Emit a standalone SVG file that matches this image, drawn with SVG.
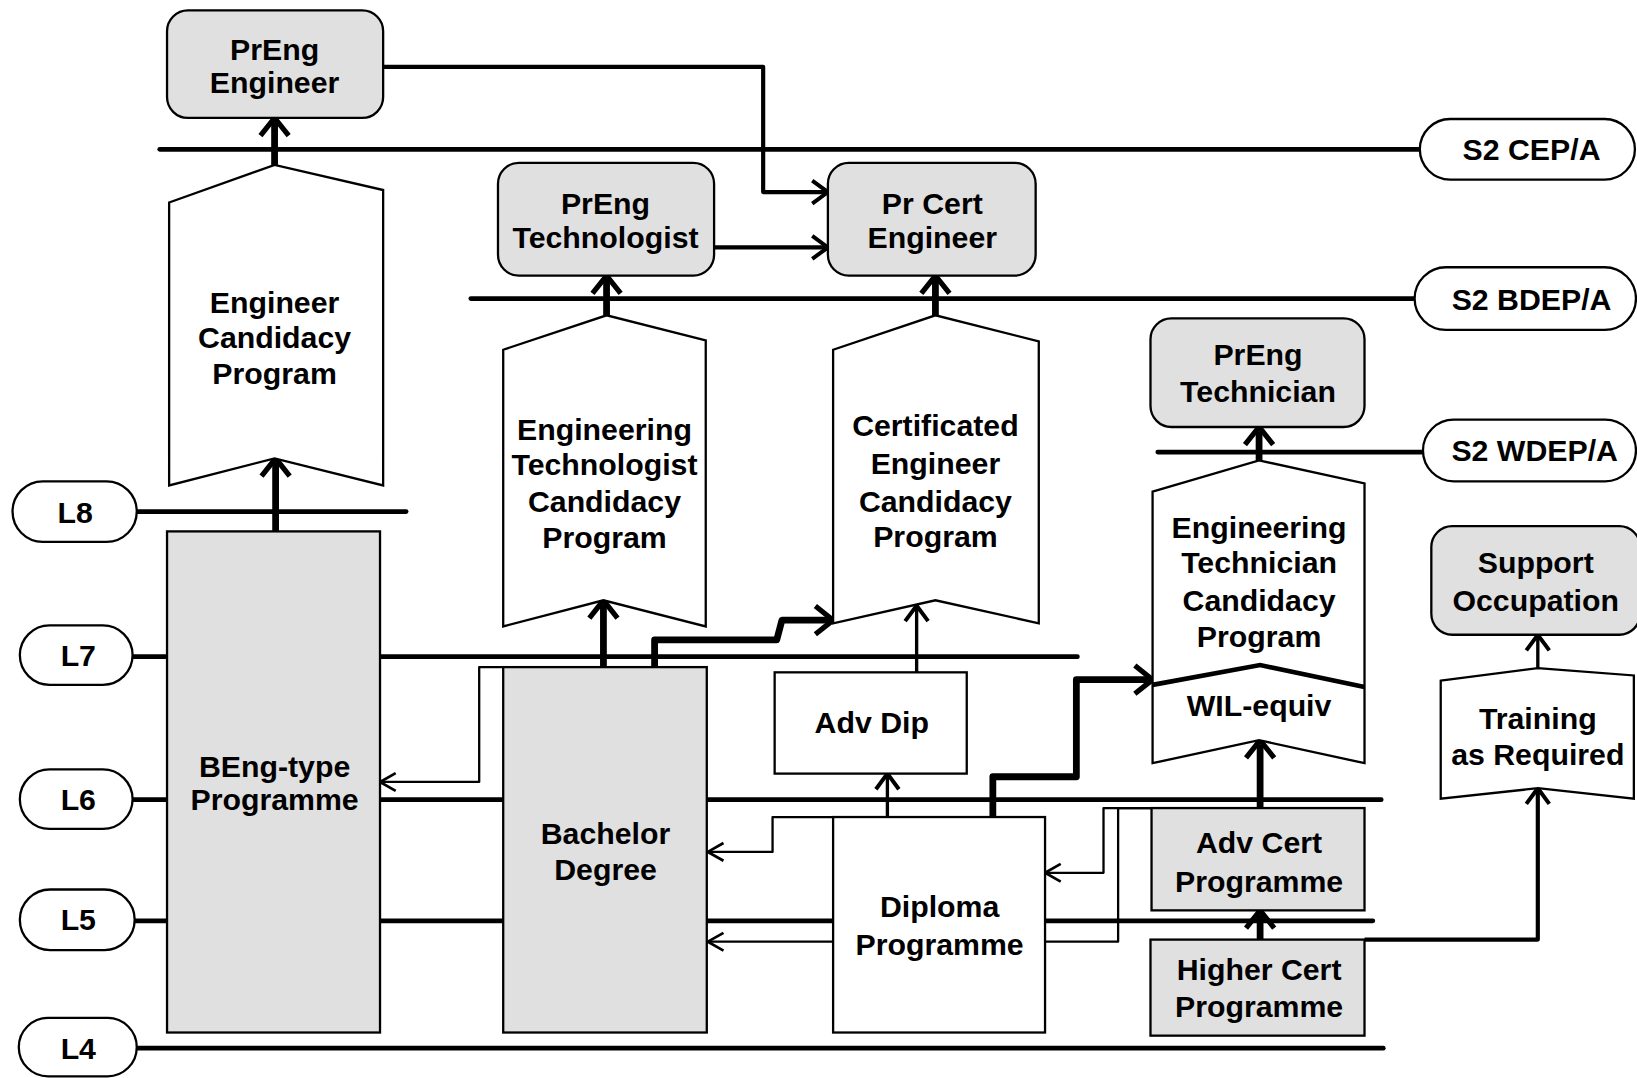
<svg xmlns="http://www.w3.org/2000/svg" width="1637" height="1078" viewBox="0 0 1637 1078">
<defs>
<style>
text{font-family:"Liberation Sans",Arial,sans-serif;font-weight:bold;font-size:29px;text-anchor:middle;fill:#000}
.lvl{stroke:#000;stroke-width:4.5;stroke-linecap:round;fill:none}
.g{fill:#e0e0e0;stroke:#000;stroke-width:2.2}
.w{fill:#fff;stroke:#000;stroke-width:2.2}
.c{fill:none;stroke:#000;stroke-linejoin:round}
.t1{stroke-width:2.2;marker-end:url(#aT)}
.t2{stroke-width:4;marker-end:url(#aM)}
.t3{stroke-width:6.5;marker-end:url(#aK)}
.div{fill:none;stroke:#000;stroke-width:4.5}
</style>
<marker id="aT" markerUnits="userSpaceOnUse" markerWidth="20" markerHeight="20" refX="15" refY="8.5" orient="auto" overflow="visible"><path d="M1,0 L16,8.5 L1,17" fill="none" stroke="#000" stroke-width="2.6"/></marker>
<marker id="aM" markerUnits="userSpaceOnUse" markerWidth="20" markerHeight="24" refX="14" refY="11" orient="auto" overflow="visible"><path d="M1,0 L16,11 L1,22" fill="none" stroke="#000" stroke-width="3.8"/></marker>
<marker id="aK" markerUnits="userSpaceOnUse" markerWidth="22" markerHeight="28" refX="14" refY="13.5" orient="auto" overflow="visible"><path d="M1,0 L18,13.5 L1,27" fill="none" stroke="#000" stroke-width="5"/></marker>
</defs>
<rect width="1637" height="1078" fill="#fff"/>
<g transform="scale(1.044)">
<g id="levels">
<path class="lvl" d="M153,143 L1360,143"/>
<path class="lvl" d="M451,286 L1355,286"/>
<path class="lvl" d="M1109,433 L1364,433"/>
<path class="lvl" d="M131,490 L389,490"/>
<path class="lvl" d="M127,629 L1032,629"/>
<path class="lvl" d="M127,766 L1323,766"/>
<path class="lvl" d="M128,882 L1315,882"/>
<path class="lvl" d="M132,1004 L1325,1004"/>
</g>
<g id="connectors">
<path class="c t3" d="M264,509 L264,443"/>
<path class="c t3" d="M263,158 L263,117"/>
<path class="c t3" d="M581,302 L581,268"/>
<path class="c t3" d="M896,302 L896,268"/>
<path class="c t3" d="M1206,441 L1206,413"/>
<path class="c t3" d="M578,639 L578,579"/>
<path class="c t3" d="M627,639 L627,613 L744,613 L749,594 L794,594"/>
<path class="c t3" d="M951,782 L951,744 L1031,744 L1031,651 L1100,651"/>
<path class="c t3" d="M1207,774 L1207,713"/>
<path class="c t3" d="M1207,900 L1207,876"/>
<path class="c t2" d="M367,64 L731,64 L731,184 L791,184"/>
<path class="c t2" d="M684,237 L791,237"/>
<path class="c t2" style="stroke-width:3.2" d="M878,644 L878,582"/>
<path class="c t2" style="stroke-width:3.2" d="M850,782 L850,743"/>
<path class="c t2" style="stroke-width:3.2" d="M1473,640 L1473,610"/>
<path class="c t2" d="M1307,900 L1473,900 L1473,757"/>
<path class="c t1" d="M482,639 L459,639 L459,749 L365,749"/>
<path class="c t1" d="M798,782.6 L740,782.6 L740,816 L679,816"/>
<path class="c t1" d="M1103,774 L1071,774 L1071,902 L679,902"/>
<path class="c t1" d="M1103,774 L1057,774 L1057,836 L1002,836"/>
</g>
<g id="n-preng-engineer"><rect class="g" x="160" y="10" width="207" height="103" rx="20"/><text x="263" y="57">PrEng</text><text x="263" y="89">Engineer</text></g>
<g id="n-preng-technologist"><rect class="g" x="477" y="156" width="207" height="108" rx="20"/><text x="580" y="205">PrEng</text><text x="580" y="238">Technologist</text></g>
<g id="n-pr-cert-engineer"><rect class="g" x="793" y="156" width="199" height="108" rx="20"/><text x="893" y="205">Pr Cert</text><text x="893" y="238">Engineer</text></g>
<g id="n-preng-technician"><rect class="g" x="1102" y="305" width="205" height="104" rx="20"/><text x="1205" y="350">PrEng</text><text x="1205" y="385">Technician</text></g>
<g id="n-support"><rect class="g" x="1371" y="504" width="200" height="104" rx="20"/><text x="1471" y="549">Support</text><text x="1471" y="585">Occupation</text></g>
<g id="n-eng-cand"><path class="w" d="M162,194 L263,158 L367,182 L367,465 L263,439 L162,465 Z"/><text x="263" y="300">Engineer</text><text x="263" y="333">Candidacy</text><text x="263" y="368">Program</text></g>
<g id="n-tech-cand"><path class="w" d="M482,335 L581,302 L676,326 L676,600 L578,575 L482,600 Z"/><text x="579" y="421">Engineering</text><text x="579" y="455">Technologist</text><text x="579" y="490">Candidacy</text><text x="579" y="525">Program</text></g>
<g id="n-cert-cand"><path class="w" d="M798,335 L896,302 L995,327 L995,597 L896,575 L798,597 Z"/><text x="896" y="418">Certificated</text><text x="896" y="454">Engineer</text><text x="896" y="490">Candidacy</text><text x="896" y="524">Program</text></g>
<g id="n-technician-cand"><path class="w" d="M1104,471 L1206,441 L1307,463 L1307,731 L1206,709 L1104,731 Z"/><path class="div" d="M1104,656 L1207,637 L1307,658"/><text x="1206" y="515">Engineering</text><text x="1206" y="549">Technician</text><text x="1206" y="585">Candidacy</text><text x="1206" y="620">Program</text><text x="1206" y="686">WIL-equiv</text></g>
<g id="n-training"><path class="w" d="M1380,652 L1473,640 L1565,647 L1565,765 L1473,755 L1380,765 Z"/><text x="1473" y="698">Training</text><text x="1473" y="733">as Required</text></g>
<g id="n-beng"><rect class="g" x="160" y="509" width="204" height="480"/><text x="263" y="744">BEng-type</text><text x="263" y="776">Programme</text></g>
<g id="n-bachelor"><rect class="g" x="482" y="639" width="195" height="350"/><text x="580" y="808">Bachelor</text><text x="580" y="843">Degree</text></g>
<g id="n-advdip"><rect class="w" x="742" y="644" width="184" height="97"/><text x="835" y="702">Adv Dip</text></g>
<g id="n-diploma"><rect class="w" x="798" y="782.6" width="203" height="206.4"/><text x="900" y="878">Diploma</text><text x="900" y="915">Programme</text></g>
<g id="n-advcert"><rect class="g" x="1103" y="774" width="204" height="98"/><text x="1206" y="817">Adv Cert</text><text x="1206" y="854">Programme</text></g>
<g id="n-highercert"><rect class="g" x="1102" y="900" width="205" height="92"/><text x="1206" y="939">Higher Cert</text><text x="1206" y="974">Programme</text></g>
<g id="n-L8"><rect class="w" x="12" y="461" width="119" height="58" rx="29"/><text x="72" y="501">L8</text></g>
<g id="n-L7"><rect class="w" x="19" y="599" width="108" height="57" rx="28.5"/><text x="75" y="638">L7</text></g>
<g id="n-L6"><rect class="w" x="19" y="737" width="108" height="57" rx="28.5"/><text x="75" y="776">L6</text></g>
<g id="n-L5"><rect class="w" x="19" y="852" width="110" height="58" rx="29"/><text x="75" y="891">L5</text></g>
<g id="n-L4"><rect class="w" x="18" y="975" width="113" height="56" rx="28"/><text x="75" y="1014">L4</text></g>
<g id="n-cep"><rect class="w" x="1360" y="114" width="206" height="58" rx="29"/><text x="1467" y="153">S2 CEP/A</text></g>
<g id="n-bdep"><rect class="w" x="1355" y="256" width="212" height="60" rx="30"/><text x="1467" y="297">S2 BDEP/A</text></g>
<g id="n-wdep"><rect class="w" x="1363" y="402" width="204" height="59" rx="29.5"/><text x="1470" y="442">S2 WDEP/A</text></g>
</g>
</svg>
